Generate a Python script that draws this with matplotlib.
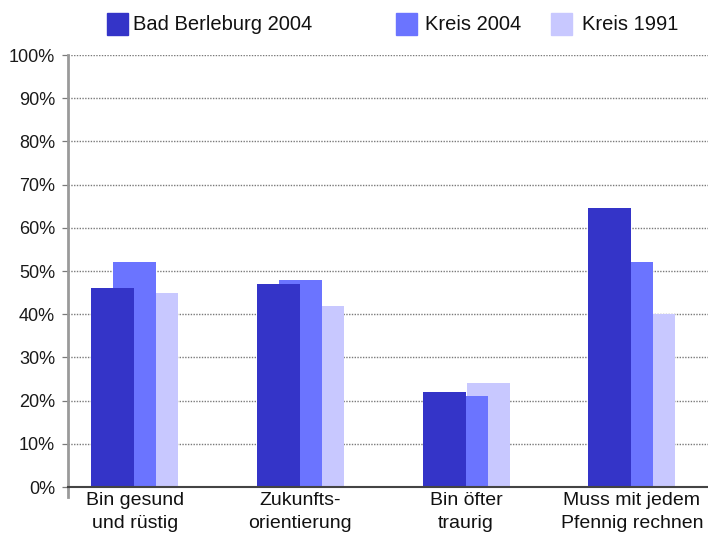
import matplotlib
matplotlib.use("Agg")
import matplotlib.pyplot as plt
from matplotlib.patches import Rectangle
from matplotlib.lines import Line2D
import numpy as np

plt.rcParams['font.family'] = ['Liberation Sans', 'DejaVu Sans']

categories = ["Bin gesund\nund rüstig", "Zukunfts-\norientierung",
              "Bin öfter\ntraurig", "Muss mit jedem\nPfennig rechnen"]
series_names = ["Bad Berleburg 2004", "Kreis 2004", "Kreis 1991"]
bad_berleburg_2004 = [46, 47, 22, 64.5]
kreis_2004 = [52, 48, 21, 52]
kreis_1991 = [45, 42, 24, 40]
y_ticks = [0, 10, 20, 30, 40, 50, 60, 70, 80, 90, 100]
y_tick_labels = [f"{v}%" for v in y_ticks]

colors = ["#3434c8", "#6b74ff", "#c8c8ff"]

W, H = 708, 543
fig = plt.figure(figsize=(W / 100, H / 100), dpi=100)
ax = fig.add_axes([68 / W, 56 / H, 1 - 68 / W, 432 / H])

x = np.arange(len(categories))
bar_w = 0.26
step = 0.133
left0 = -0.2625
all_series = [bad_berleburg_2004, kreis_2004, kreis_1991]
# front series first; later series sit behind, shifted right
for k, (vals, col) in enumerate(zip(all_series, colors)):
    ax.bar(x + left0 + k * step, vals, width=bar_w, align='edge',
           color=col, edgecolor='none', zorder=5 - k)

ax.set_xlim(-0.4025, 3.46)
ax.set_ylim(0, 100)
ax.set_yticks(y_ticks)
ax.set_yticklabels(y_tick_labels, fontsize=13, color='#1a1a1a')
ax.set_xticks([])

for v in y_ticks[1:]:
    ax.axhline(v, color='#7a7a7a', lw=1.0, linestyle=(0, (1, 1)), zorder=1)

ax.tick_params(axis='y', length=4.3, width=0.9, color='#7a7a7a', pad=5)
for s in ['top', 'right']:
    ax.spines[s].set_visible(False)
ax.spines['left'].set_color('#9a9a9a')
ax.spines['left'].set_linewidth(2)
ax.spines['bottom'].set_color('#444444')
ax.spines['bottom'].set_linewidth(1.5)
ax.spines['bottom'].set_zorder(10)
ax.add_line(Line2D([0, 0], [0, -10 / 432], transform=ax.transAxes,
                   color='#9a9a9a', lw=2, clip_on=False))

for xi, lab in zip(x, categories):
    ax.text(xi, -5 / 432, lab, transform=ax.get_xaxis_transform(),
            ha='center', va='top', fontsize=14, color='#111111',
            linespacing=1.5)

# legend row
legend_items = [(107, 133), (396, 425), (551, 582)]
for (sx, tx), name, col in zip(legend_items, series_names, colors):
    fig.add_artist(Rectangle((sx / W, 1 - 35 / H), 21 / W, 22 / H,
                             transform=fig.transFigure, color=col))
    fig.text(tx / W, 1 - 24 / H, name, fontsize=14.5, va='center',
             ha='left', color='#111111')

fig.savefig("out.png", dpi=100)
